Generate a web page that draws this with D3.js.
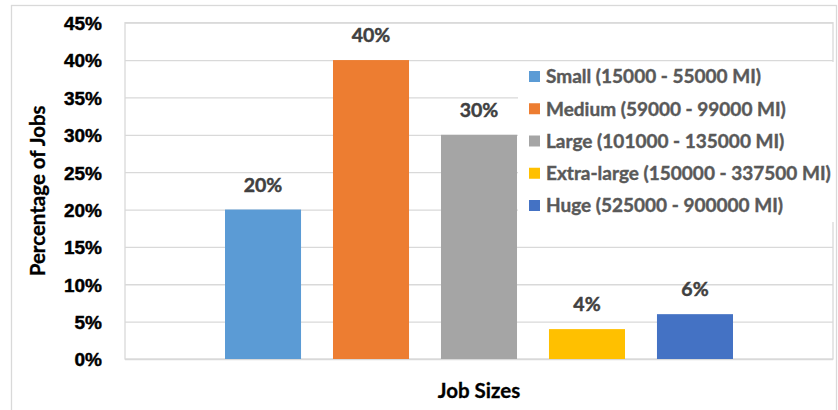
<!DOCTYPE html>
<html>
<head>
<meta charset="utf-8">
<script src="https://cdn.jsdelivr.net/npm/d3@7"></script>
<style>
  body { margin: 0; background: #fff; }
  svg { display: block; font-family: Lato, 'Open Sans', sans-serif; }
  .tick line { stroke: #d9d9d9; stroke-width: 1.3px; }
  .domain { display: none; }
  /* a thin stroke to get closer to the heavier Calibri bold */
  .y-axis text { font-size: 19px; font-weight: bold; fill: #000; stroke: #000; stroke-width: 0.45px; }
  .bar-label { font-size: 19.5px; font-weight: bold; fill: #404040; stroke: #404040; stroke-width: 0.45px; }
  .legend text { font-size: 19px; font-weight: bold; fill: #595959; stroke: #595959; stroke-width: 0.4px; }
  .axis-title { font-size: 20.5px; font-weight: bold; fill: #000; stroke: #000; stroke-width: 0.3px; }
</style>
</head>
<body>
<svg id="chart" width="838" height="410"></svg>
<script>
// data
const categories = ['Small', 'Medium', 'Large', 'Extra-large', 'Huge'];
const legendLabels = [
    'Small (15000 - 55000 MI)',
    'Medium (59000 - 99000 MI)',
    'Large (101000 - 135000 MI)',
    'Extra-large (150000 - 337500 MI)',
    'Huge (525000 - 900000 MI)'
];
const values = [0.20, 0.40, 0.30, 0.04, 0.06];
const colors = ['#5b9bd5', '#ed7d31', '#a5a5a5', '#ffc000', '#4472c4'];
const yTicks = [0, 0.05, 0.10, 0.15, 0.20, 0.25, 0.30, 0.35, 0.40, 0.45];

const plot = { left: 125, right: 833, top: 22.7, bottom: 359 };

const svg = d3.select('#chart');

// outer chart border (cropped at right/bottom in the original)
svg.append('rect')
    .attr('x', 11.5).attr('y', 5.5)
    .attr('width', 825).attr('height', 420)
    .attr('fill', '#fff')
    .attr('stroke', '#d9d9d9')
    .attr('stroke-width', 1.3);

const x = d3.scaleBand()
    .domain(categories)
    .range([plot.left, plot.right])
    .paddingInner(0.296)
    .paddingOuter(0.926);

const y = d3.scaleLinear()
    .domain([0, 0.45])
    .range([plot.bottom, plot.top]);

// gridlines + tick labels
svg.append('g')
    .attr('class', 'y-axis')
    .attr('transform', `translate(${plot.left},0)`)
    .call(d3.axisLeft(y)
        .tickValues(yTicks)
        .tickFormat(d3.format('.0%'))
        .tickSize(-(plot.right - plot.left))
        .tickPadding(23))
    .call(g => g.selectAll('text').attr('dy', '0.36em'));

// plot area border
svg.append('rect')
    .attr('x', plot.left).attr('y', plot.top)
    .attr('width', plot.right - plot.left)
    .attr('height', plot.bottom - plot.top)
    .attr('fill', 'none')
    .attr('stroke', '#d9d9d9')
    .attr('stroke-width', 1.3);

// bars
svg.append('g')
    .selectAll('rect')
    .data(categories)
    .enter().append('rect')
    .attr('x', d => x(d))
    .attr('y', (d, i) => y(values[i]))
    .attr('width', x.bandwidth())
    .attr('height', (d, i) => y(0) - y(values[i]))
    .attr('fill', (d, i) => colors[i]);

// value labels
svg.append('g')
    .selectAll('text')
    .data(categories)
    .enter().append('text')
    .attr('class', 'bar-label')
    .attr('x', d => x(d) + x.bandwidth() / 2)
    .attr('y', (d, i) => y(values[i]) - 18)
    .attr('text-anchor', 'middle')
    .text((d, i) => d3.format('.0%')(values[i]));

// legend (white box sits over the gridlines)
const legend = svg.append('g').attr('class', 'legend');
legend.append('rect')
    .attr('x', 518).attr('y', 62)
    .attr('width', 317).attr('height', 160)
    .attr('fill', '#fff');

const rowY = d3.scalePoint()
    .domain(categories)
    .range([76.5, 205.5]);

const item = legend.selectAll('g.item')
    .data(categories)
    .enter().append('g')
    .attr('class', 'item')
    .attr('transform', d => `translate(529,${rowY(d)})`);

item.append('rect')
    .attr('x', 0).attr('y', -5.5)
    .attr('width', 11).attr('height', 11)
    .attr('fill', (d, i) => colors[i]);

item.append('text')
    .attr('x', 17)
    .attr('dy', '0.36em')
    .text((d, i) => legendLabels[i]);

// axis titles
svg.append('text')
    .attr('class', 'axis-title')
    .attr('transform', `translate(45,${(plot.top + plot.bottom) / 2}) rotate(-90)`)
    .attr('text-anchor', 'middle')
    .text('Percentage of Jobs');

svg.append('text')
    .attr('class', 'axis-title')
    .attr('x', (plot.left + plot.right) / 2)
    .attr('y', 398)
    .attr('text-anchor', 'middle')
    .text('Job Sizes');
</script>
</body>
</html>
